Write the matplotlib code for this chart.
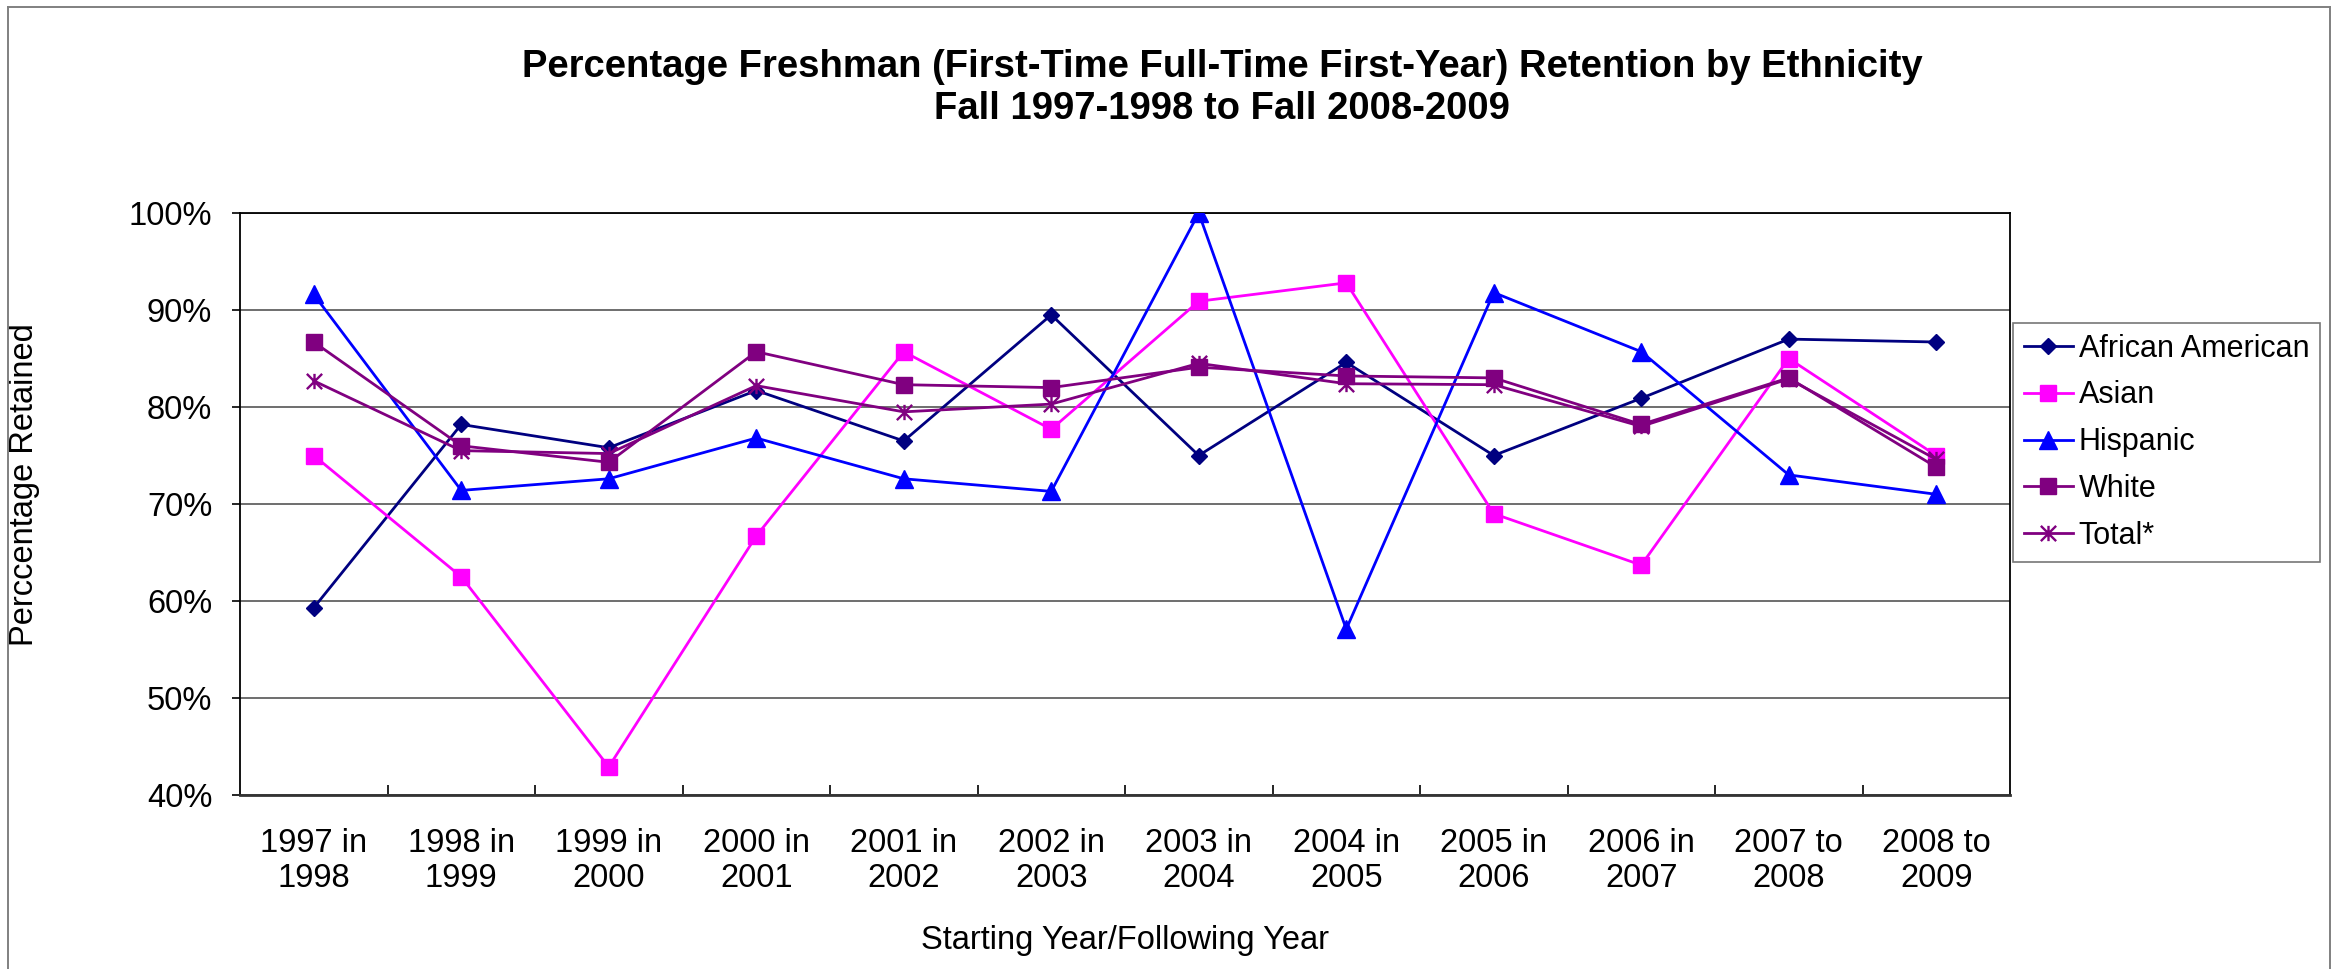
import matplotlib
matplotlib.use("Agg")
import matplotlib.pyplot as plt
from matplotlib.path import Path
from matplotlib.lines import Line2D
from matplotlib import font_manager


# Retention rates (%) by starting year
years = ["1997 in\n1998", "1998 in\n1999", "1999 in\n2000", "2000 in\n2001",
         "2001 in\n2002", "2002 in\n2003", "2003 in\n2004", "2004 in\n2005",
         "2005 in\n2006", "2006 in\n2007", "2007 to\n2008", "2008 to\n2009"]

african_american = [59.3, 78.2, 75.8, 81.7, 76.5, 89.5, 75.0, 84.6, 75.0, 80.9, 87.0, 86.7]
asian = [75.0, 62.5, 42.9, 66.7, 85.7, 77.7, 90.9, 92.8, 69.0, 63.7, 85.0, 75.0]
hispanic = [91.6, 71.4, 72.6, 76.8, 72.6, 71.3, 100.0, 57.1, 91.8, 85.7, 73.0, 71.0]
white = [86.7, 76.0, 74.3, 85.7, 82.3, 82.0, 84.1, 83.2, 83.0, 78.2, 83.0, 73.8]
total = [82.7, 75.5, 75.2, 82.2, 79.5, 80.3, 84.5, 82.4, 82.3, 78.0, 82.9, 74.6]

yticks = [40, 50, 60, 70, 80, 90, 100]


# Fonts: condensed bold for the title if it exists
installed = {f.name for f in font_manager.fontManager.ttflist}
title_family = "Liberation Sans Narrow" if "Liberation Sans Narrow" in installed else "Liberation Sans"
title_size = 30 if title_family == "Liberation Sans Narrow" else 27.5
plt.rcParams["font.family"] = ["Liberation Sans", "DejaVu Sans"]

W, H = 2338, 969
fig = plt.figure(figsize=(W / 100, H / 100), dpi=100)

# plot area in pixels: x 240..2010, y 213..795
ax = fig.add_axes([240 / W, 1 - 795 / H, (2010 - 240) / W, (795 - 213) / H])

# Excel style asterisk marker (X plus vertical bar)
star = Path([(0, -0.5), (0, 0.5), (-0.5, -0.5), (0.5, 0.5), (-0.5, 0.5), (0.5, -0.5)],
            [Path.MOVETO, Path.LINETO, Path.MOVETO, Path.LINETO, Path.MOVETO, Path.LINETO])

x = list(range(len(years)))
lw = 2.0
ax.plot(x, african_american, color="#000080", lw=lw, marker="D", ms=8.5, label="African American", zorder=3)
ax.plot(x, asian, color="#FF00FF", lw=lw, marker="s", ms=11.5, label="Asian", zorder=3)
ax.plot(x, hispanic, color="#0000FF", lw=lw, marker="^", ms=12.5, label="Hispanic", zorder=3)
ax.plot(x, white, color="#800080", lw=lw, marker="s", ms=11.5, label="White", zorder=3)
ax.plot(x, total, color="#800080", lw=lw, marker=star, ms=11, mew=1.7, mfc="none",
        label="Total*", zorder=3)

ax.set_xlim(-0.5, len(years) - 0.5)
ax.set_ylim(40, 100)

fs = 23.5

# y axis
ax.set_yticks(yticks)
ax.set_yticklabels([f"{v}%" for v in yticks], fontsize=fs)
ax.tick_params(axis="y", direction="out", length=6, width=1.2, pad=14)
ax.yaxis.grid(True, color="#6e6e6e", lw=1.4)
ax.set_axisbelow(True)

# x axis: labels centered on categories, tick marks between them
ax.set_xticks(x)
ax.set_xticklabels(years, fontsize=fs, linespacing=1.15)
ax.tick_params(axis="x", which="major", length=0, pad=24)
ax.set_xticks([i + 0.5 for i in x[:-1]], minor=True)
ax.tick_params(axis="x", which="minor", direction="in", length=7, width=1.2)

for side in ["left", "right", "top"]:
    ax.spines[side].set_color("black")
    ax.spines[side].set_linewidth(1.3)
ax.spines["bottom"].set_color("#333333")
ax.spines["bottom"].set_linewidth(2.0)

ax.set_ylabel("Perccentage Retained", fontsize=fs, labelpad=0)
ax.yaxis.set_label_coords(40 / W, 0.5, transform=fig.transFigure)
fig.text(1125 / W, 1 - 941 / H, "Starting Year/Following Year", fontsize=fs,
         ha="center", va="center")

fig.text(1222 / W, 1 - 67 / H, "Percentage Freshman (First-Time Full-Time First-Year) Retention by Ethnicity",
         fontsize=title_size, fontweight="bold", family=title_family, ha="center", va="center")
fig.text(1222 / W, 1 - 109 / H, "Fall 1997-1998 to Fall 2008-2009",
         fontsize=title_size, fontweight="bold", family=title_family, ha="center", va="center")

leg = fig.legend(loc="upper left", bbox_to_anchor=(2013 / W, 1 - 323 / H),
                 bbox_transform=fig.transFigure, fontsize=22, frameon=True,
                 fancybox=False, borderaxespad=0, handlelength=1.6, handletextpad=0.2,
                 labelspacing=0.55, borderpad=0.35)
leg.get_frame().set_edgecolor("#555555")
leg.get_frame().set_linewidth(1.2)

# outer chart border (bottom edge runs off the image)
for xs, ys in [((8, 8), (H + 5, 7)), ((8, 2330), (7, 7)), ((2330, 2330), (7, H + 5))]:
    fig.add_artist(Line2D([v / W for v in xs], [1 - v / H for v in ys],
                          color="#808080", lw=1.4, transform=fig.transFigure))

fig.savefig("out.png", dpi=100, facecolor="white")
